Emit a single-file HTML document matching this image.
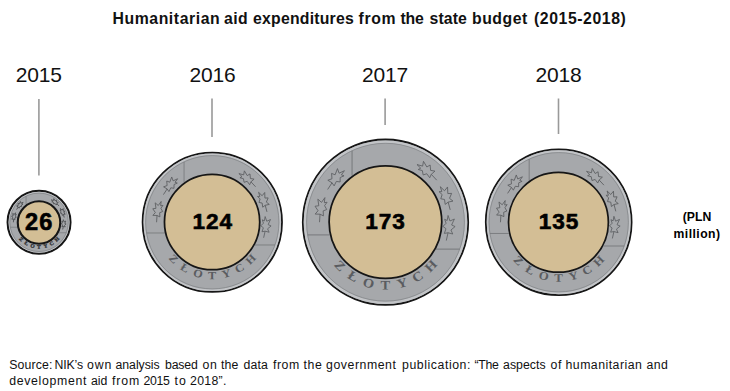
<!DOCTYPE html>
<html><head><meta charset="utf-8"><style>
html,body{margin:0;padding:0;background:#fff;}
body{width:730px;height:391px;position:relative;overflow:hidden;font-family:"Liberation Sans",sans-serif;color:#111;}
.tw{position:absolute;font-weight:bold;font-size:15.8px;line-height:18px;white-space:nowrap;}
.yr{position:absolute;top:0;width:80px;text-align:center;font-size:21px;line-height:20px;letter-spacing:-0.2px;text-indent:-0.2px}
.num{position:absolute;top:0;width:80px;text-align:center;font-weight:bold;font-size:22.6px;letter-spacing:0.95px;line-height:22px;-webkit-text-stroke:0.6px #000;color:#000;}
.unit{position:absolute;font-weight:bold;font-size:12.2px;line-height:16.7px;text-align:center;white-space:nowrap;color:#000;}
.w{position:absolute;font-size:12.3px;line-height:16.8px;white-space:nowrap;}
svg{position:absolute;left:0;top:0;}
</style></head><body>
<svg width="730" height="391" viewBox="0 0 730 391">
<circle cx="39.05" cy="222.3" r="31.50" fill="#a6a8ab" stroke="#161616" stroke-width="2.0"/>
<circle cx="39.05" cy="222.3" r="30.03" fill="none" stroke="#c2c4c7" stroke-width="0.95"/>
<circle cx="39.05" cy="222.3" r="29.20" fill="none" stroke="#808285" stroke-width="0.7"/>
<line x1="26.05" y1="196.15" x2="26.05" y2="204.35" stroke="#76787b" stroke-width="0.70"/>
<line x1="10.27" y1="227.24" x2="17.21" y2="227.24" stroke="#76787b" stroke-width="0.70"/>
<line x1="58.80" y1="232.77" x2="66.31" y2="232.77" stroke="#76787b" stroke-width="0.70"/>
<path d="M1.8,-12.5 L-0.6,-7.2 L-4.8,-9.6 L-2.6,-3.4 L-6.2,-2.2 L-2.4,1.6 L-4.6,5.4 L0.2,4.6 L1.2,12.5 M0.2,4.6 L3.8,5.6 L2.6,0.8 L5.8,-1.2 L3.0,-4.6 L4.8,-8.4 L2.2,-7.4 L1.8,-12.5" transform="translate(55.51,202.48) rotate(-50.3) scale(-0.392,0.392)" fill="none" stroke="#505255" stroke-width="2.17" stroke-linejoin="round"/>
<path d="M1.8,-12.5 L-0.6,-7.2 L-4.8,-9.6 L-2.6,-3.4 L-6.2,-2.2 L-2.4,1.6 L-4.6,5.4 L0.2,4.6 L1.2,12.5 M0.2,4.6 L3.8,5.6 L2.6,0.8 L5.8,-1.2 L3.0,-4.6 L4.8,-8.4 L2.2,-7.4 L1.8,-12.5" transform="translate(62.83,212.79) rotate(-21.8) scale(-0.392,0.392)" fill="none" stroke="#505255" stroke-width="2.17" stroke-linejoin="round"/>
<path d="M1.8,-12.5 L-0.6,-7.2 L-4.8,-9.6 L-2.6,-3.4 L-6.2,-2.2 L-2.4,1.6 L-4.6,5.4 L0.2,4.6 L1.2,12.5 M0.2,4.6 L3.8,5.6 L2.6,0.8 L5.8,-1.2 L3.0,-4.6 L4.8,-8.4 L2.2,-7.4 L1.8,-12.5" transform="translate(63.61,224.62) rotate(5.4) scale(-0.392,0.392)" fill="none" stroke="#505255" stroke-width="2.17" stroke-linejoin="round"/>
<path d="M1.8,-12.5 L-0.6,-7.2 L-4.8,-9.6 L-2.6,-3.4 L-6.2,-2.2 L-2.4,1.6 L-4.6,5.4 L0.2,4.6 L1.2,12.5 M0.2,4.6 L3.8,5.6 L2.6,0.8 L5.8,-1.2 L3.0,-4.6 L4.8,-8.4 L2.2,-7.4 L1.8,-12.5" transform="translate(19.37,205.55) rotate(40.4) scale(0.392)" fill="none" stroke="#505255" stroke-width="2.17" stroke-linejoin="round"/>
<path d="M1.8,-12.5 L-0.6,-7.2 L-4.8,-9.6 L-2.6,-3.4 L-6.2,-2.2 L-2.4,1.6 L-4.6,5.4 L0.2,4.6 L1.2,12.5 M0.2,4.6 L3.8,5.6 L2.6,0.8 L5.8,-1.2 L3.0,-4.6 L4.8,-8.4 L2.2,-7.4 L1.8,-12.5" transform="translate(13.87,217.41) rotate(11.0) scale(0.392)" fill="none" stroke="#505255" stroke-width="2.17" stroke-linejoin="round"/>
<circle cx="39.0" cy="222.5" r="21.25" fill="#d3be95" stroke="#161616" stroke-width="2.1"/>
<text x="0" y="0" transform="translate(20.10,240.40) rotate(46.3) scale(1.12,1)" text-anchor="middle" font-family="Liberation Serif" font-weight="bold" font-size="5.04" fill="#2e3033" stroke="#2e3033" stroke-width="0.3">Z</text>
<text x="0" y="0" transform="translate(25.59,244.78) rotate(30.9) scale(1.12,1)" text-anchor="middle" font-family="Liberation Serif" font-weight="bold" font-size="5.04" fill="#2e3033" stroke="#2e3033" stroke-width="0.3">Ł</text>
<text x="0" y="0" transform="translate(32.03,247.55) rotate(15.5) scale(1.12,1)" text-anchor="middle" font-family="Liberation Serif" font-weight="bold" font-size="5.04" fill="#2e3033" stroke="#2e3033" stroke-width="0.3">O</text>
<text x="0" y="0" transform="translate(38.98,248.50) rotate(0.2) scale(1.12,1)" text-anchor="middle" font-family="Liberation Serif" font-weight="bold" font-size="5.04" fill="#2e3033" stroke="#2e3033" stroke-width="0.3">T</text>
<text x="0" y="0" transform="translate(45.94,247.58) rotate(-15.2) scale(1.12,1)" text-anchor="middle" font-family="Liberation Serif" font-weight="bold" font-size="5.04" fill="#2e3033" stroke="#2e3033" stroke-width="0.3">Y</text>
<text x="0" y="0" transform="translate(52.40,244.85) rotate(-30.6) scale(1.12,1)" text-anchor="middle" font-family="Liberation Serif" font-weight="bold" font-size="5.04" fill="#2e3033" stroke="#2e3033" stroke-width="0.3">C</text>
<text x="0" y="0" transform="translate(57.90,240.50) rotate(-46.0) scale(1.12,1)" text-anchor="middle" font-family="Liberation Serif" font-weight="bold" font-size="5.04" fill="#2e3033" stroke="#2e3033" stroke-width="0.3">H</text>
<circle cx="212.3" cy="222.25" r="69.70" fill="#a6a8ab" stroke="#161616" stroke-width="1.8"/>
<circle cx="212.3" cy="222.25" r="67.90" fill="none" stroke="#c2c4c7" stroke-width="1.80"/>
<circle cx="212.3" cy="222.25" r="66.65" fill="none" stroke="#808285" stroke-width="0.7"/>
<line x1="184.06" y1="161.88" x2="184.06" y2="182.53" stroke="#76787b" stroke-width="0.85"/>
<line x1="146.52" y1="232.98" x2="164.84" y2="232.98" stroke="#76787b" stroke-width="0.85"/>
<line x1="254.86" y1="244.98" x2="274.95" y2="244.98" stroke="#76787b" stroke-width="0.85"/>
<path d="M1.8,-12.5 L-0.6,-7.2 L-4.8,-9.6 L-2.6,-3.4 L-6.2,-2.2 L-2.4,1.6 L-4.6,5.4 L0.2,4.6 L1.2,12.5 M0.2,4.6 L3.8,5.6 L2.6,0.8 L5.8,-1.2 L3.0,-4.6 L4.8,-8.4 L2.2,-7.4 L1.8,-12.5" transform="translate(248.05,179.19) rotate(-50.3) scale(-0.851,0.851)" fill="none" stroke="#5c5e61" stroke-width="0.94" stroke-linejoin="round"/>
<path d="M1.8,-12.5 L-0.6,-7.2 L-4.8,-9.6 L-2.6,-3.4 L-6.2,-2.2 L-2.4,1.6 L-4.6,5.4 L0.2,4.6 L1.2,12.5 M0.2,4.6 L3.8,5.6 L2.6,0.8 L5.8,-1.2 L3.0,-4.6 L4.8,-8.4 L2.2,-7.4 L1.8,-12.5" transform="translate(263.95,201.59) rotate(-21.8) scale(-0.851,0.851)" fill="none" stroke="#5c5e61" stroke-width="0.94" stroke-linejoin="round"/>
<path d="M1.8,-12.5 L-0.6,-7.2 L-4.8,-9.6 L-2.6,-3.4 L-6.2,-2.2 L-2.4,1.6 L-4.6,5.4 L0.2,4.6 L1.2,12.5 M0.2,4.6 L3.8,5.6 L2.6,0.8 L5.8,-1.2 L3.0,-4.6 L4.8,-8.4 L2.2,-7.4 L1.8,-12.5" transform="translate(265.65,227.29) rotate(5.4) scale(-0.851,0.851)" fill="none" stroke="#5c5e61" stroke-width="0.94" stroke-linejoin="round"/>
<path d="M1.8,-12.5 L-0.6,-7.2 L-4.8,-9.6 L-2.6,-3.4 L-6.2,-2.2 L-2.4,1.6 L-4.6,5.4 L0.2,4.6 L1.2,12.5 M0.2,4.6 L3.8,5.6 L2.6,0.8 L5.8,-1.2 L3.0,-4.6 L4.8,-8.4 L2.2,-7.4 L1.8,-12.5" transform="translate(169.55,185.86) rotate(40.4) scale(0.851)" fill="none" stroke="#5c5e61" stroke-width="0.94" stroke-linejoin="round"/>
<path d="M1.8,-12.5 L-0.6,-7.2 L-4.8,-9.6 L-2.6,-3.4 L-6.2,-2.2 L-2.4,1.6 L-4.6,5.4 L0.2,4.6 L1.2,12.5 M0.2,4.6 L3.8,5.6 L2.6,0.8 L5.8,-1.2 L3.0,-4.6 L4.8,-8.4 L2.2,-7.4 L1.8,-12.5" transform="translate(157.61,211.62) rotate(11.0) scale(0.851)" fill="none" stroke="#5c5e61" stroke-width="0.94" stroke-linejoin="round"/>
<circle cx="212.1" cy="222.1" r="47.62" fill="#d3be95" stroke="#161616" stroke-width="1.75"/>
<text x="0" y="0" transform="translate(171.14,261.58) rotate(46.3) scale(1.12,1)" text-anchor="middle" font-family="Liberation Serif" font-weight="bold" font-size="10.94" fill="#5a5c60" stroke="none" stroke-width="0.3">Z</text>
<text x="0" y="0" transform="translate(183.05,271.09) rotate(30.9) scale(1.12,1)" text-anchor="middle" font-family="Liberation Serif" font-weight="bold" font-size="10.94" fill="#5a5c60" stroke="none" stroke-width="0.3">Ł</text>
<text x="0" y="0" transform="translate(197.06,277.10) rotate(15.5) scale(1.12,1)" text-anchor="middle" font-family="Liberation Serif" font-weight="bold" font-size="10.94" fill="#5a5c60" stroke="none" stroke-width="0.3">O</text>
<text x="0" y="0" transform="translate(212.15,279.17) rotate(0.2) scale(1.12,1)" text-anchor="middle" font-family="Liberation Serif" font-weight="bold" font-size="10.94" fill="#5a5c60" stroke="none" stroke-width="0.3">T</text>
<text x="0" y="0" transform="translate(227.26,277.17) rotate(-15.2) scale(1.12,1)" text-anchor="middle" font-family="Liberation Serif" font-weight="bold" font-size="10.94" fill="#5a5c60" stroke="none" stroke-width="0.3">Y</text>
<text x="0" y="0" transform="translate(241.29,271.24) rotate(-30.6) scale(1.12,1)" text-anchor="middle" font-family="Liberation Serif" font-weight="bold" font-size="10.94" fill="#5a5c60" stroke="none" stroke-width="0.3">C</text>
<text x="0" y="0" transform="translate(253.25,261.79) rotate(-46.0) scale(1.12,1)" text-anchor="middle" font-family="Liberation Serif" font-weight="bold" font-size="10.94" fill="#5a5c60" stroke="none" stroke-width="0.3">H</text>
<circle cx="385.5" cy="222.2" r="82.70" fill="#a6a8ab" stroke="#161616" stroke-width="1.8"/>
<circle cx="385.5" cy="222.2" r="80.53" fill="none" stroke="#c2c4c7" stroke-width="2.53"/>
<circle cx="385.5" cy="222.2" r="78.92" fill="none" stroke="#808285" stroke-width="0.7"/>
<line x1="352.06" y1="150.72" x2="352.06" y2="175.66" stroke="#76787b" stroke-width="1.00"/>
<line x1="307.61" y1="234.91" x2="329.70" y2="234.91" stroke="#76787b" stroke-width="1.00"/>
<line x1="435.87" y1="249.12" x2="459.69" y2="249.12" stroke="#76787b" stroke-width="1.00"/>
<path d="M1.8,-12.5 L-0.6,-7.2 L-4.8,-9.6 L-2.6,-3.4 L-6.2,-2.2 L-2.4,1.6 L-4.6,5.4 L0.2,4.6 L1.2,12.5 M0.2,4.6 L3.8,5.6 L2.6,0.8 L5.8,-1.2 L3.0,-4.6 L4.8,-8.4 L2.2,-7.4 L1.8,-12.5" transform="translate(427.83,171.21) rotate(-50.3) scale(-1.007,1.007)" fill="none" stroke="#5c5e61" stroke-width="0.79" stroke-linejoin="round"/>
<path d="M1.8,-12.5 L-0.6,-7.2 L-4.8,-9.6 L-2.6,-3.4 L-6.2,-2.2 L-2.4,1.6 L-4.6,5.4 L0.2,4.6 L1.2,12.5 M0.2,4.6 L3.8,5.6 L2.6,0.8 L5.8,-1.2 L3.0,-4.6 L4.8,-8.4 L2.2,-7.4 L1.8,-12.5" transform="translate(446.66,197.74) rotate(-21.8) scale(-1.007,1.007)" fill="none" stroke="#5c5e61" stroke-width="0.79" stroke-linejoin="round"/>
<path d="M1.8,-12.5 L-0.6,-7.2 L-4.8,-9.6 L-2.6,-3.4 L-6.2,-2.2 L-2.4,1.6 L-4.6,5.4 L0.2,4.6 L1.2,12.5 M0.2,4.6 L3.8,5.6 L2.6,0.8 L5.8,-1.2 L3.0,-4.6 L4.8,-8.4 L2.2,-7.4 L1.8,-12.5" transform="translate(448.67,228.17) rotate(5.4) scale(-1.007,1.007)" fill="none" stroke="#5c5e61" stroke-width="0.79" stroke-linejoin="round"/>
<path d="M1.8,-12.5 L-0.6,-7.2 L-4.8,-9.6 L-2.6,-3.4 L-6.2,-2.2 L-2.4,1.6 L-4.6,5.4 L0.2,4.6 L1.2,12.5 M0.2,4.6 L3.8,5.6 L2.6,0.8 L5.8,-1.2 L3.0,-4.6 L4.8,-8.4 L2.2,-7.4 L1.8,-12.5" transform="translate(334.88,179.11) rotate(40.4) scale(1.007)" fill="none" stroke="#5c5e61" stroke-width="0.79" stroke-linejoin="round"/>
<path d="M1.8,-12.5 L-0.6,-7.2 L-4.8,-9.6 L-2.6,-3.4 L-6.2,-2.2 L-2.4,1.6 L-4.6,5.4 L0.2,4.6 L1.2,12.5 M0.2,4.6 L3.8,5.6 L2.6,0.8 L5.8,-1.2 L3.0,-4.6 L4.8,-8.4 L2.2,-7.4 L1.8,-12.5" transform="translate(320.74,209.61) rotate(11.0) scale(1.007)" fill="none" stroke="#5c5e61" stroke-width="0.79" stroke-linejoin="round"/>
<circle cx="385.45" cy="222.1" r="56.33" fill="#d3be95" stroke="#161616" stroke-width="1.75"/>
<text x="0" y="0" transform="translate(336.77,268.77) rotate(46.3) scale(1.12,1)" text-anchor="middle" font-family="Liberation Serif" font-weight="bold" font-size="12.96" fill="#5a5c60" stroke="none" stroke-width="0.3">Z</text>
<text x="0" y="0" transform="translate(350.87,280.03) rotate(30.9) scale(1.12,1)" text-anchor="middle" font-family="Liberation Serif" font-weight="bold" font-size="12.96" fill="#5a5c60" stroke="none" stroke-width="0.3">Ł</text>
<text x="0" y="0" transform="translate(367.45,287.15) rotate(15.5) scale(1.12,1)" text-anchor="middle" font-family="Liberation Serif" font-weight="bold" font-size="12.96" fill="#5a5c60" stroke="none" stroke-width="0.3">O</text>
<text x="0" y="0" transform="translate(385.32,289.61) rotate(0.2) scale(1.12,1)" text-anchor="middle" font-family="Liberation Serif" font-weight="bold" font-size="12.96" fill="#5a5c60" stroke="none" stroke-width="0.3">T</text>
<text x="0" y="0" transform="translate(403.21,287.24) rotate(-15.2) scale(1.12,1)" text-anchor="middle" font-family="Liberation Serif" font-weight="bold" font-size="12.96" fill="#5a5c60" stroke="none" stroke-width="0.3">Y</text>
<text x="0" y="0" transform="translate(419.83,280.21) rotate(-30.6) scale(1.12,1)" text-anchor="middle" font-family="Liberation Serif" font-weight="bold" font-size="12.96" fill="#5a5c60" stroke="none" stroke-width="0.3">C</text>
<text x="0" y="0" transform="translate(433.99,269.02) rotate(-46.0) scale(1.12,1)" text-anchor="middle" font-family="Liberation Serif" font-weight="bold" font-size="12.96" fill="#5a5c60" stroke="none" stroke-width="0.3">H</text>
<circle cx="558.7" cy="222.25" r="72.90" fill="#a6a8ab" stroke="#161616" stroke-width="1.8"/>
<circle cx="558.7" cy="222.25" r="71.01" fill="none" stroke="#c2c4c7" stroke-width="1.98"/>
<circle cx="558.7" cy="222.25" r="69.67" fill="none" stroke="#808285" stroke-width="0.7"/>
<line x1="529.18" y1="159.15" x2="529.18" y2="180.78" stroke="#76787b" stroke-width="0.89"/>
<line x1="489.94" y1="233.47" x2="508.89" y2="233.47" stroke="#76787b" stroke-width="0.89"/>
<line x1="603.38" y1="246.01" x2="624.19" y2="246.01" stroke="#76787b" stroke-width="0.89"/>
<path d="M1.8,-12.5 L-0.6,-7.2 L-4.8,-9.6 L-2.6,-3.4 L-6.2,-2.2 L-2.4,1.6 L-4.6,5.4 L0.2,4.6 L1.2,12.5 M0.2,4.6 L3.8,5.6 L2.6,0.8 L5.8,-1.2 L3.0,-4.6 L4.8,-8.4 L2.2,-7.4 L1.8,-12.5" transform="translate(596.07,177.24) rotate(-50.3) scale(-0.889,0.889)" fill="none" stroke="#5c5e61" stroke-width="0.90" stroke-linejoin="round"/>
<path d="M1.8,-12.5 L-0.6,-7.2 L-4.8,-9.6 L-2.6,-3.4 L-6.2,-2.2 L-2.4,1.6 L-4.6,5.4 L0.2,4.6 L1.2,12.5 M0.2,4.6 L3.8,5.6 L2.6,0.8 L5.8,-1.2 L3.0,-4.6 L4.8,-8.4 L2.2,-7.4 L1.8,-12.5" transform="translate(612.69,200.65) rotate(-21.8) scale(-0.889,0.889)" fill="none" stroke="#5c5e61" stroke-width="0.90" stroke-linejoin="round"/>
<path d="M1.8,-12.5 L-0.6,-7.2 L-4.8,-9.6 L-2.6,-3.4 L-6.2,-2.2 L-2.4,1.6 L-4.6,5.4 L0.2,4.6 L1.2,12.5 M0.2,4.6 L3.8,5.6 L2.6,0.8 L5.8,-1.2 L3.0,-4.6 L4.8,-8.4 L2.2,-7.4 L1.8,-12.5" transform="translate(614.47,227.52) rotate(5.4) scale(-0.889,0.889)" fill="none" stroke="#5c5e61" stroke-width="0.90" stroke-linejoin="round"/>
<path d="M1.8,-12.5 L-0.6,-7.2 L-4.8,-9.6 L-2.6,-3.4 L-6.2,-2.2 L-2.4,1.6 L-4.6,5.4 L0.2,4.6 L1.2,12.5 M0.2,4.6 L3.8,5.6 L2.6,0.8 L5.8,-1.2 L3.0,-4.6 L4.8,-8.4 L2.2,-7.4 L1.8,-12.5" transform="translate(514.01,184.22) rotate(40.4) scale(0.889)" fill="none" stroke="#5c5e61" stroke-width="0.90" stroke-linejoin="round"/>
<path d="M1.8,-12.5 L-0.6,-7.2 L-4.8,-9.6 L-2.6,-3.4 L-6.2,-2.2 L-2.4,1.6 L-4.6,5.4 L0.2,4.6 L1.2,12.5 M0.2,4.6 L3.8,5.6 L2.6,0.8 L5.8,-1.2 L3.0,-4.6 L4.8,-8.4 L2.2,-7.4 L1.8,-12.5" transform="translate(501.53,211.14) rotate(11.0) scale(0.889)" fill="none" stroke="#5c5e61" stroke-width="0.90" stroke-linejoin="round"/>
<circle cx="558.45" cy="222.3" r="49.92" fill="#d3be95" stroke="#161616" stroke-width="1.75"/>
<text x="0" y="0" transform="translate(515.68,263.36) rotate(46.3) scale(1.12,1)" text-anchor="middle" font-family="Liberation Serif" font-weight="bold" font-size="11.44" fill="#5a5c60" stroke="none" stroke-width="0.3">Z</text>
<text x="0" y="0" transform="translate(528.13,273.30) rotate(30.9) scale(1.12,1)" text-anchor="middle" font-family="Liberation Serif" font-weight="bold" font-size="11.44" fill="#5a5c60" stroke="none" stroke-width="0.3">Ł</text>
<text x="0" y="0" transform="translate(542.76,279.58) rotate(15.5) scale(1.12,1)" text-anchor="middle" font-family="Liberation Serif" font-weight="bold" font-size="11.44" fill="#5a5c60" stroke="none" stroke-width="0.3">O</text>
<text x="0" y="0" transform="translate(558.54,281.76) rotate(0.2) scale(1.12,1)" text-anchor="middle" font-family="Liberation Serif" font-weight="bold" font-size="11.44" fill="#5a5c60" stroke="none" stroke-width="0.3">T</text>
<text x="0" y="0" transform="translate(574.34,279.66) rotate(-15.2) scale(1.12,1)" text-anchor="middle" font-family="Liberation Serif" font-weight="bold" font-size="11.44" fill="#5a5c60" stroke="none" stroke-width="0.3">Y</text>
<text x="0" y="0" transform="translate(589.01,273.46) rotate(-30.6) scale(1.12,1)" text-anchor="middle" font-family="Liberation Serif" font-weight="bold" font-size="11.44" fill="#5a5c60" stroke="none" stroke-width="0.3">C</text>
<text x="0" y="0" transform="translate(601.50,263.59) rotate(-46.0) scale(1.12,1)" text-anchor="middle" font-family="Liberation Serif" font-weight="bold" font-size="11.44" fill="#5a5c60" stroke="none" stroke-width="0.3">H</text>
<line x1="38.9" y1="99" x2="38.9" y2="175.5" stroke="#999999" stroke-width="1.6"/>
<line x1="212.0" y1="98.5" x2="212.0" y2="137" stroke="#999999" stroke-width="1.6"/>
<line x1="385.1" y1="98.5" x2="385.1" y2="125" stroke="#999999" stroke-width="1.6"/>
<line x1="558.5" y1="98.5" x2="558.5" y2="134" stroke="#999999" stroke-width="1.6"/>
</svg>
<span class="tw" style="left:112.5px;top:10px;letter-spacing:0.564px">Humanitarian</span><span class="tw" style="left:224px;top:10px;letter-spacing:0.413px">aid</span><span class="tw" style="left:253px;top:10px;letter-spacing:0.224px">expenditures</span><span class="tw" style="left:358.5px;top:10px;letter-spacing:0.648px">from</span><span class="tw" style="left:400.5px;top:10px;letter-spacing:-0.205px">the</span><span class="tw" style="left:429.5px;top:10px;letter-spacing:0.102px">state</span><span class="tw" style="left:472px;top:10px;letter-spacing:0.523px">budget</span><span class="tw" style="left:534px;top:10px;letter-spacing:0.57px">(2015-2018)</span>
<div style="position:absolute;left:0;top:64.8px;width:730px;height:24px">
<div class="yr" style="left:-1.25px">2015</div>
<div class="yr" style="left:172.5px">2016</div>
<div class="yr" style="left:345px">2017</div>
<div class="yr" style="left:518.5px">2018</div>
</div>
<div style="position:absolute;left:0;top:211px;width:730px;height:24px">
<div class="num" style="left:-0.8500000000000014px;font-size:23.6px;top:-0.5px;">26</div>
<div class="num" style="left:172.75px;">124</div>
<div class="num" style="left:345.5px;">173</div>
<div class="num" style="left:519.0px;">135</div>
</div>
<div class="unit" style="left:670px;top:209px;width:54px;line-height:17.2px">(PLN<br><span style="letter-spacing:0.45px">million)</span></div>
<span class="w" style="left:9.2px;top:356.5px;letter-spacing:0.14px">Source:</span><span class="w" style="left:54.5px;top:356.5px;letter-spacing:-0.127px">NIK’s</span><span class="w" style="left:87px;top:356.5px;letter-spacing:0.89px">own</span><span class="w" style="left:115.5px;top:356.5px;letter-spacing:-0.04px">analysis</span><span class="w" style="left:165px;top:356.5px;letter-spacing:-0.166px">based</span><span class="w" style="left:202.5px;top:356.5px;letter-spacing:0.661px">on</span><span class="w" style="left:221px;top:356.5px;letter-spacing:0.122px">the</span><span class="w" style="left:243.5px;top:356.5px;letter-spacing:0.135px">data</span><span class="w" style="left:273px;top:356.5px;letter-spacing:0.55px">from</span><span class="w" style="left:303.5px;top:356.5px;letter-spacing:0.622px">the</span><span class="w" style="left:326px;top:356.5px;letter-spacing:0.553px">government</span><span class="w" style="left:402px;top:356.5px;letter-spacing:0.564px">publication:</span><span class="w" style="left:474.5px;top:356.5px;letter-spacing:-0.315px">“The</span><span class="w" style="left:503px;top:356.5px;letter-spacing:0.045px">aspects</span><span class="w" style="left:550.5px;top:356.5px;letter-spacing:0.661px">of</span><span class="w" style="left:565.5px;top:356.5px;letter-spacing:0.477px">humanitarian</span><span class="w" style="left:646.5px;top:356.5px;letter-spacing:0.411px">and</span>
<span class="w" style="left:9.2px;top:373.3px;letter-spacing:0.68px">development</span><span class="w" style="left:91px;top:373.3px;letter-spacing:-0.035px">aid</span><span class="w" style="left:112px;top:373.3px;letter-spacing:0.883px">from</span><span class="w" style="left:143.5px;top:373.3px;letter-spacing:-0.339px">2015</span><span class="w" style="left:174.5px;top:373.3px;letter-spacing:1.084px">to</span><span class="w" style="left:190px;top:373.3px;letter-spacing:0.31px">2018”.</span>

</body></html>
